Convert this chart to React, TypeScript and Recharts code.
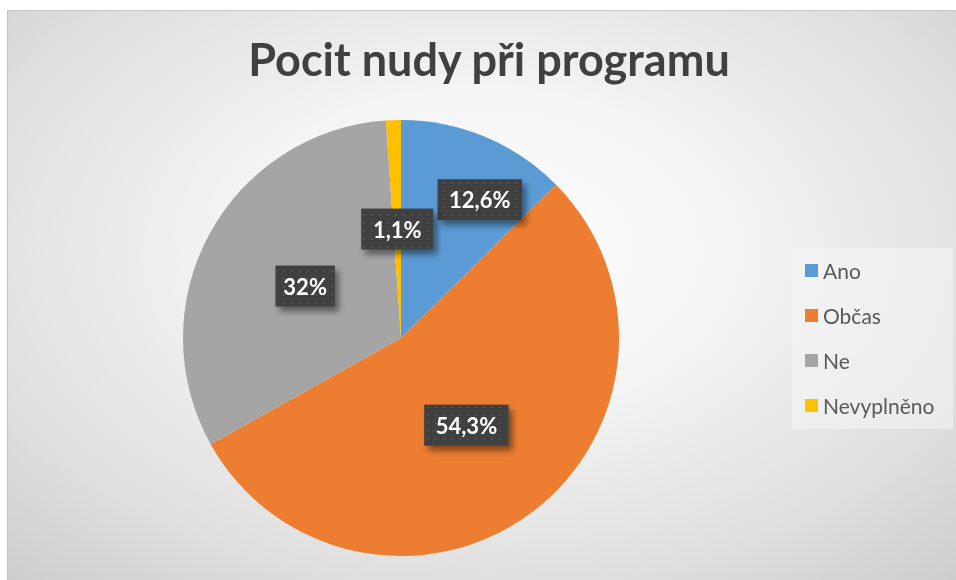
import { PieChart, Pie, Cell, Legend } from "recharts";

const categories = ["Ano", "Občas", "Ne", "Nevyplněno"];
const shares = [12.6, 54.3, 32, 1.1];
const colors = ["#5B9BD5", "#ED7D31", "#A5A5A5", "#FFC000"];

const chartData = categories.map((name, i) => ({ name, value: shares[i] }));

const RAD = Math.PI / 180;
// Excel's "best fit" pushes the small first label outward so it does not collide
const labelNudge: Record<string, { r: number; a: number }> = {
  Ano: { r: 0.73, a: -7 },
};

const fmt = (v: number) => `${String(v).replace(".", ",")}%`;

function BoxLabel(props: any) {
  const { cx, cy, midAngle, outerRadius, value, name } = props;
  const nudge = labelNudge[name] ?? { r: 0.5, a: 0 };
  const ang = (midAngle + nudge.a) * RAD;
  const r = outerRadius * nudge.r;
  const x = cx + r * Math.cos(-ang);
  const y = cy + r * Math.sin(-ang);
  const text = fmt(value);
  const w = text.length * 12.5 + 22;
  const h = 41;
  return (
    <g>
      <rect
        x={x - w / 2}
        y={y - h / 2}
        width={w}
        height={h}
        fill="#404040"
        filter="url(#lblShadow)"
      />
      <rect x={x - w / 2} y={y - h / 2} width={w} height={h} fill="url(#dots)" />
      <text
        x={x}
        y={y}
        textAnchor="middle"
        dominantBaseline="central"
        fill="#ffffff"
        fontFamily="Lato, 'Open Sans', sans-serif"
        fontWeight={700}
        fontSize={22}
      >
        {text}
      </text>
    </g>
  );
}

function LegendBox() {
  return (
    <div
      style={{
        background: "rgba(245,245,245,0.55)",
        width: 161,
        height: 181,
        boxSizing: "border-box",
        padding: "0 0 0 13px",
        fontFamily: "Lato, 'Open Sans', sans-serif",
        fontSize: 21,
        color: "#595959",
      }}
    >
      {categories.map((c, i) => (
        <div
          key={c}
          style={{ display: "flex", alignItems: "center", height: 45 }}
        >
          <span
            style={{
              width: 13,
              height: 13,
              background: colors[i],
              marginRight: 5,
              display: "inline-block",
            }}
          />
          <span>{c}</span>
        </div>
      ))}
    </div>
  );
}

export default function App() {
  return (
    <div
      style={{
        position: "fixed",
        left: 0,
        top: 0,
        width: 956,
        height: 580,
        background: "#ffffff",
      }}
    >
      <div
        style={{
          position: "absolute",
          left: 7,
          top: 10,
          width: 949,
          height: 570,
          borderLeft: "1px solid #c2c2c2",
          borderTop: "1px solid #c8c8c8",
          boxSizing: "border-box",
          background:
            "radial-gradient(ellipse 75% 80% at 50% 42%, #ffffff 0%, #f4f4f4 35%, #dedede 75%, #cccccc 100%)",
        }}
      >
        <div
          style={{
            position: "absolute",
            left: 0,
            top: 21,
            width: 962,
            textAlign: "center",
            fontFamily: "Lato, 'Open Sans', sans-serif",
            fontWeight: 700,
            fontSize: 45,
            color: "#404040",
          }}
        >
          Pocit nudy při programu
        </div>
        <PieChart
          width={948}
          height={569}
          margin={{ top: 0, right: 0, bottom: 0, left: 0 }}
        >
          <defs>
            <filter id="lblShadow" x="-30%" y="-30%" width="170%" height="190%">
              <feDropShadow
                dx="4"
                dy="5"
                stdDeviation="3"
                floodColor="#000000"
                floodOpacity="0.45"
              />
            </filter>
            <pattern id="dots" width="8" height="8" patternUnits="userSpaceOnUse">
              <circle cx="4" cy="4" r="1.1" fill="#555555" />
            </pattern>
          </defs>
          <Pie
            data={chartData}
            dataKey="value"
            nameKey="name"
            cx={393}
            cy={327}
            outerRadius={218}
            startAngle={90}
            endAngle={-270}
            stroke="none"
            label={BoxLabel}
            labelLine={false}
            isAnimationActive={false}
          >
            {chartData.map((d, i) => (
              <Cell key={d.name} fill={colors[i]} />
            ))}
          </Pie>
          <Legend
            layout="vertical"
            align="right"
            verticalAlign="top"
            wrapperStyle={{ left: 784, top: 237, width: 161 }}
            content={() => <LegendBox />}
          />
        </PieChart>
      </div>
    </div>
  );
}
